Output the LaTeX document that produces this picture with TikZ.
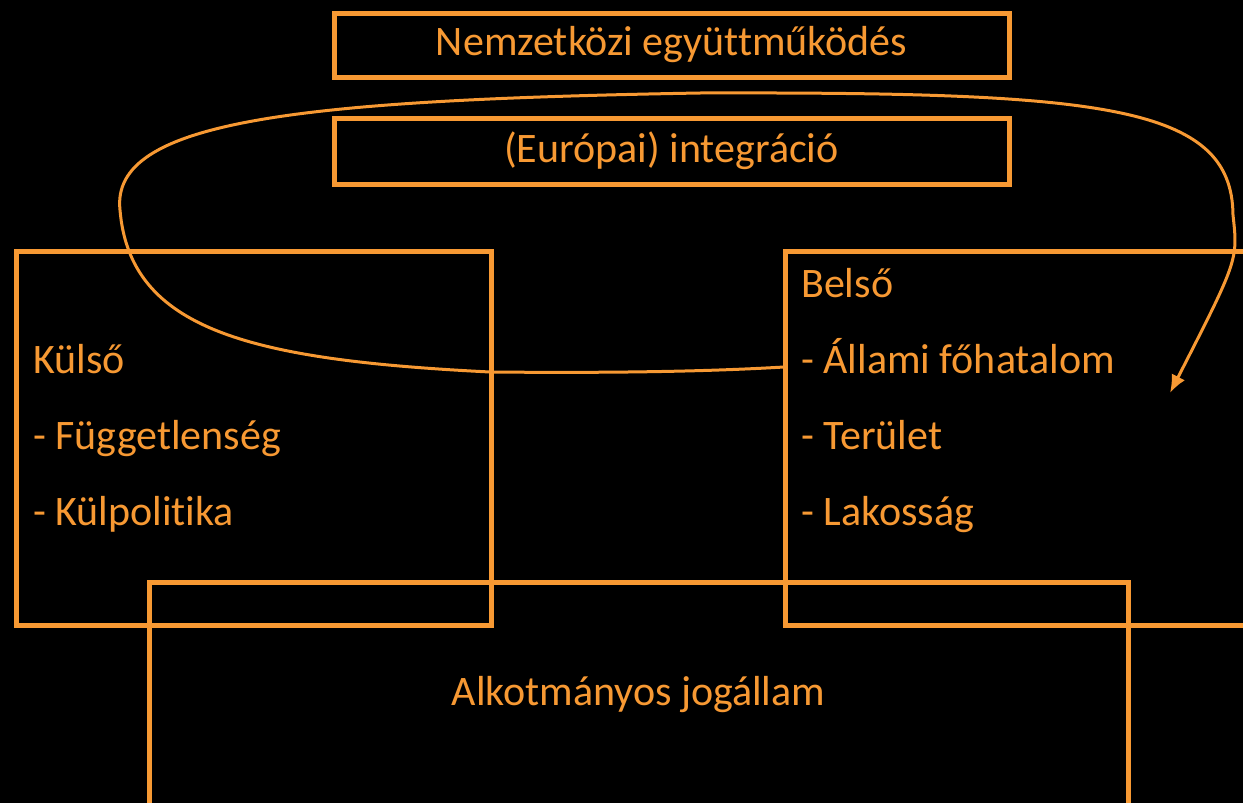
\documentclass[tikz,border=0pt]{standalone}
\usepackage{fontspec}
\setmainfont{Carlito}[Ligatures=NoCommon]
\usepackage{tikz}
\usetikzlibrary{arrows.meta,positioning}
\definecolor{narancs}{RGB}{247,153,51}

\begin{document}
\begin{tikzpicture}[x=1pt,y=-1pt,
  doboz/.style={draw=narancs,line width=5pt,inner sep=0pt},
  felirat/.style={text=narancs,inner sep=0pt,font=\fontsize{42}{50}\selectfont}]
%Hatter es vagas, a jobb es az also doboz kilog a kepbol
\fill[black] (0,0) rectangle (1243,803);
\clip (0,0) rectangle (1243,803);
  \pgfmathsetmacro{\sor}{76}
\node[doboz,felirat,minimum width=675pt,minimum height=64pt] (nemzetkozi) at (671.5,45) {Nemzetközi együttműködés};
\node[doboz,felirat,minimum width=675pt,minimum height=66pt] (integracio) at (671.5,151) {(Európai) integráció};
\node[doboz,minimum width=475pt,minimum height=374pt] (kulso) at (253.5,438) {};
\node[doboz,minimum width=515pt,minimum height=374pt] (belso) at (1042.5,438) {};
\node[doboz,minimum width=979pt,minimum height=268pt] (jogallam) at (638.5,716) {};
%Sorok a dobozokban
\foreach \szoveg [count=\i] in {Külső,- Függetlenség,- Külpolitika}{
\node[felirat,anchor=base west] (kulso\i) at (33,{373+(\i-1)*\sor}) {\szoveg};
}
\foreach \szoveg [count=\i] in {Belső,- Állami főhatalom,- Terület,- Lakosság}{
\node[felirat,anchor=base west] (belso\i) at (801,{297+(\i-1)*\sor}) {\szoveg};
}
\node[felirat,anchor=base] (alkotmanyos) at (638.5,705) {Alkotmányos jogállam};
%Hurok a belso dobozbol
\coordinate (kezdo) at (784,367);
\coordinate (hegy) at (1170,393);
\draw[narancs,line width=3pt,-{Latex[length=18pt,width=15pt]}] (kezdo) .. controls (700,372) and (600,373) .. (490,372)
  .. controls (250,360) and (130,330) .. (120,210) .. controls (110,120) and (300,100) .. (700,93)
  .. controls (1100,92) and (1232,104) .. (1233,215) .. controls (1238,260) .. (hegy);
\end{tikzpicture}
\end{document}
